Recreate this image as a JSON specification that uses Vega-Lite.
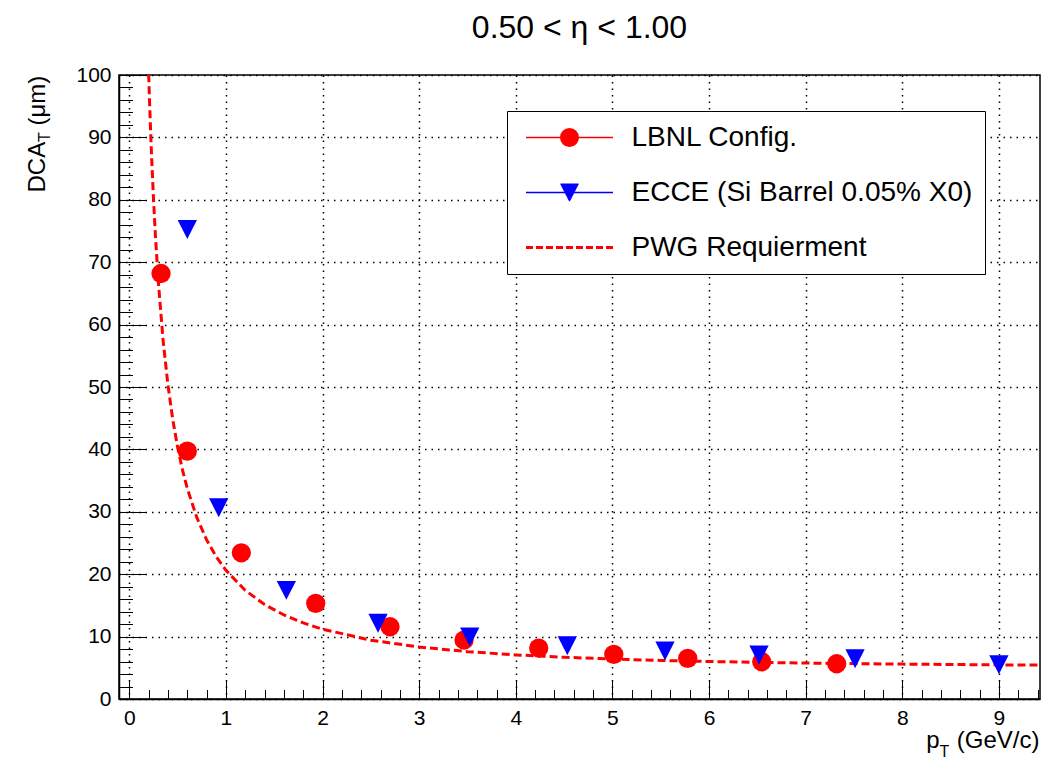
{
  "$schema": "https://vega.github.io/schema/vega-lite/v6.json",
  "width": 921,
  "height": 624,
  "autosize": {"type": "none"},
  "padding": {"left": 119, "top": 75, "right": 13, "bottom": 61},
  "background": "white",
  "title": {
    "text": "0.50 < η < 1.00",
    "font": "Liberation Sans",
    "fontSize": 32,
    "fontWeight": "normal",
    "color": "black",
    "anchor": "middle",
    "frame": "group",
    "baseline": "alphabetic",
    "offset": -6
  },
  "config": {
    "view": {"stroke": "black", "strokeWidth": 1.5},
    "axis": {
      "labelFont": "Liberation Sans",
      "titleFont": "Liberation Sans",
      "titleFontWeight": "normal",
      "titleColor": "black",
      "labelColor": "black",
      "tickColor": "black",
      "domainColor": "black"
    },
    "legend": {"labelFont": "Liberation Sans"}
  },
  "datasets": {
    "legend": [
      {"series": "LBNL Config."},
      {"series": "ECCE (Si Barrel 0.05% X0)"},
      {"series": "PWG Requierment"}
    ],
    "curve": [
      {"pt": 0.2, "dca": 100.12},
      {"pt": 0.21, "dca": 95.37},
      {"pt": 0.22, "dca": 91.05},
      {"pt": 0.23, "dca": 87.1},
      {"pt": 0.25, "dca": 80.16},
      {"pt": 0.27, "dca": 74.24},
      {"pt": 0.3, "dca": 66.85},
      {"pt": 0.35, "dca": 57.36},
      {"pt": 0.4, "dca": 50.25},
      {"pt": 0.45, "dca": 44.72},
      {"pt": 0.5, "dca": 40.31},
      {"pt": 0.55, "dca": 36.71},
      {"pt": 0.6, "dca": 33.71},
      {"pt": 0.7, "dca": 29.01},
      {"pt": 0.8, "dca": 25.5},
      {"pt": 0.9, "dca": 22.78},
      {"pt": 1.0, "dca": 20.62},
      {"pt": 1.2, "dca": 17.4},
      {"pt": 1.4, "dca": 15.14},
      {"pt": 1.6, "dca": 13.46},
      {"pt": 1.8, "dca": 12.19},
      {"pt": 2.0, "dca": 11.18},
      {"pt": 2.5, "dca": 9.43},
      {"pt": 3.0, "dca": 8.33},
      {"pt": 3.5, "dca": 7.59},
      {"pt": 4.0, "dca": 7.07},
      {"pt": 4.5, "dca": 6.69},
      {"pt": 5.0, "dca": 6.4},
      {"pt": 5.5, "dca": 6.18},
      {"pt": 6.0, "dca": 6.01},
      {"pt": 6.5, "dca": 5.87},
      {"pt": 7.0, "dca": 5.76},
      {"pt": 7.5, "dca": 5.67},
      {"pt": 8.0, "dca": 5.59},
      {"pt": 8.5, "dca": 5.53},
      {"pt": 9.0, "dca": 5.47},
      {"pt": 9.42, "dca": 5.43}
    ],
    "lbnl": [
      {"pt": 0.328, "dca": 68.19},
      {"pt": 0.6, "dca": 39.72},
      {"pt": 1.159, "dca": 23.43},
      {"pt": 1.929, "dca": 15.33},
      {"pt": 2.698, "dca": 11.58},
      {"pt": 3.464, "dca": 9.45},
      {"pt": 4.237, "dca": 8.17},
      {"pt": 5.014, "dca": 7.16},
      {"pt": 5.779, "dca": 6.52},
      {"pt": 6.545, "dca": 5.97},
      {"pt": 7.321, "dca": 5.65}
    ],
    "ecce": [
      {"pt": 0.6, "dca": 75.24},
      {"pt": 0.925, "dca": 30.64},
      {"pt": 1.625, "dca": 17.41},
      {"pt": 2.574, "dca": 12.13},
      {"pt": 3.523, "dca": 9.93},
      {"pt": 4.533, "dca": 8.54},
      {"pt": 5.544, "dca": 7.69},
      {"pt": 6.517, "dca": 7.05},
      {"pt": 7.511, "dca": 6.46},
      {"pt": 9.0, "dca": 5.49}
    ]
  },
  "resolve": {"axis": {"x": "independent", "y": "independent"}},
  "layer": [
    {
      "data": {"name": "curve"},
      "mark": {"type": "line", "stroke": "#ff0000", "strokeWidth": 3, "strokeDash": [8, 4], "clip": true},
      "encoding": {
        "x": {
          "field": "pt", "type": "quantitative",
          "scale": {"domain": [-0.107, 9.425], "nice": false, "zero": false},
          "axis": {
            "orient": "bottom",
            "values": [0,0.2,0.4,0.6,0.8,1,1.2,1.4,1.6,1.8,2,2.2,2.4,2.6,2.8,3,3.2,3.4,3.6,3.8,4,4.2,4.4,4.6,4.8,5,5.2,5.4,5.6,5.8,6,6.2,6.4,6.6,6.8,7,7.2,7.4,7.6,7.8,8,8.2,8.4,8.6,8.8,9,9.2,9.4],
            "labelExpr": "datum.value % 1 === 0 ? format(datum.value, 'd') : ''",
            "tickSize": {"condition": {"test": "datum.value % 1 === 0", "value": -19}, "value": -9.5},
            "tickWidth": 1,
            "grid": true,
            "gridColor": "black",
            "gridDash": [1.5, 5],
            "gridWidth": 1.5,
            "gridOpacity": {"condition": {"test": "datum.value % 1 === 0", "value": 1}, "value": 0},
            "labelFontSize": 21,
            "labelPadding": 27,
            "labelOverlap": false,
            "labelFlush": false,
            "domainWidth": 1.5,
            "title": "(GeV/c)",
            "titleFontSize": 24,
            "titleAlign": "right",
            "titleAngle": 0,
            "titleBaseline": "alphabetic",
            "titleX": 920,
            "titleY": 48
          }
        },
        "y": {
          "field": "dca", "type": "quantitative",
          "scale": {"domain": [0, 100], "nice": false, "zero": false},
          "axis": {
            "orient": "left",
            "values": [0,2,4,6,8,10,12,14,16,18,20,22,24,26,28,30,32,34,36,38,40,42,44,46,48,50,52,54,56,58,60,62,64,66,68,70,72,74,76,78,80,82,84,86,88,90,92,94,96,98,100],
            "labelExpr": "datum.value % 10 === 0 ? format(datum.value, 'd') : ''",
            "tickSize": {"condition": {"test": "datum.value % 10 === 0", "value": -27}, "value": -13.5},
            "tickWidth": 1,
            "grid": true,
            "gridColor": "black",
            "gridDash": [1.5, 5],
            "gridWidth": 1.5,
            "gridOpacity": {"condition": {"test": "datum.value % 10 === 0", "value": 1}, "value": 0},
            "labelFontSize": 21,
            "labelPadding": 35,
            "labelOverlap": false,
            "labelFlush": false,
            "domainWidth": 1.5,
            "title": "DCA",
            "titleFontSize": 24,
            "titleAngle": 270,
            "titleAlign": "left",
            "titleBaseline": "alphabetic",
            "titleX": -75,
            "titleY": 117
          }
        }
      }
    },
    {
      "data": {"name": "lbnl"},
      "mark": {"type": "point", "shape": "circle", "filled": true, "size": 372, "opacity": 1, "color": "#ff0000"},
      "encoding": {
        "x": {
          "field": "pt", "type": "quantitative",
          "scale": {"domain": [-0.107, 9.425], "nice": false, "zero": false},
          "axis": {"orient": "bottom", "ticks": false, "labels": false, "domain": false, "grid": false,
            "title": "p", "titleFontSize": 24, "titleAlign": "right", "titleAngle": 0, "titleBaseline": "alphabetic", "titleX": 820, "titleY": 48}
        },
        "y": {
          "field": "dca", "type": "quantitative",
          "scale": {"domain": [0, 100], "nice": false, "zero": false},
          "axis": {"orient": "left", "ticks": false, "labels": false, "domain": false, "grid": false,
            "title": "T", "titleFontSize": 16, "titleAngle": 270, "titleAlign": "left", "titleBaseline": "alphabetic", "titleX": -69.5, "titleY": 66.5}
        }
      }
    },
    {
      "data": {"name": "ecce"},
      "mark": {"type": "point", "shape": "M-1,-0.98L1,-0.98L0,0.98Z", "filled": true, "size": 372, "opacity": 1, "color": "#0000ff"},
      "encoding": {
        "x": {
          "field": "pt", "type": "quantitative",
          "scale": {"domain": [-0.107, 9.425], "nice": false, "zero": false},
          "axis": {"orient": "bottom", "ticks": false, "labels": false, "domain": false, "grid": false,
            "title": "T", "titleFontSize": 16, "titleAlign": "left", "titleAngle": 0, "titleBaseline": "alphabetic", "titleX": 820, "titleY": 57}
        },
        "y": {
          "field": "dca", "type": "quantitative",
          "scale": {"domain": [0, 100], "nice": false, "zero": false},
          "axis": {"orient": "left", "ticks": false, "labels": false, "domain": false, "grid": false,
            "title": "(μm)", "titleFontSize": 24, "titleAngle": 270, "titleAlign": "left", "titleBaseline": "alphabetic", "titleX": -75, "titleY": 50}
        }
      }
    },
    {
      "data": {"name": "legend"},
      "mark": {"type": "point", "filled": false, "size": 400, "opacity": 0, "strokeWidth": 1.5},
      "encoding": {
        "stroke": {
          "field": "series", "type": "nominal",
          "scale": {"domain": ["LBNL Config.", "ECCE (Si Barrel 0.05% X0)", "PWG Requierment"], "range": ["#ff0000", "#0000ff", "#ff0000"]},
          "legend": {
            "title": null,
            "orient": "none",
            "legendX": 388,
            "legendY": 36,
            "padding": 12.5,
            "strokeColor": "black",
            "fillColor": "white",
            "cornerRadius": 0,
            "symbolSize": 400,
            "symbolOpacity": 1,
            "symbolStrokeWidth": 1.5,
            "labelFontSize": 28,
            "labelColor": "black",
            "labelOffset": 84,
            "rowPadding": 27,
            "labelLimit": 700
          }
        },
        "shape": {
          "field": "series", "type": "nominal",
          "scale": {
            "domain": ["LBNL Config.", "ECCE (Si Barrel 0.05% X0)", "PWG Requierment"],
            "range": [
              "M-0.75,0H7.95M2.725,0A0.875,0.875,0,1,1,4.475,0A0.875,0.875,0,1,1,2.725,0M2.85,0A0.75,0.75,0,1,1,4.35,0A0.75,0.75,0,1,1,2.85,0M2.975,0A0.625,0.625,0,1,1,4.225,0A0.625,0.625,0,1,1,2.975,0M3.1,0A0.5,0.5,0,1,1,4.1,0A0.5,0.5,0,1,1,3.1,0M3.225,0A0.375,0.375,0,1,1,3.975,0A0.375,0.375,0,1,1,3.225,0M3.35,0A0.25,0.25,0,1,1,3.85,0A0.25,0.25,0,1,1,3.35,0M3.475,0A0.125,0.125,0,1,1,3.725,0A0.125,0.125,0,1,1,3.475,0M3.5,0H3.7",
              "M-0.75,0H7.95M2.689,-0.825H4.511M2.753,-0.7H4.447M2.817,-0.575H4.383M2.881,-0.45H4.319M2.945,-0.325H4.255M3.009,-0.2H4.191M3.074,-0.075H4.126M3.138,0.05H4.062M3.202,0.175H3.998M3.266,0.3H3.934M3.33,0.425H3.87M3.395,0.55H3.805M3.459,0.675H3.741M3.523,0.8H3.677",
              "M-0.75,-0.075H-0.05M-0.75,0.075H-0.05M0.25,-0.075H0.95M0.25,0.075H0.95M1.25,-0.075H1.95M1.25,0.075H1.95M2.25,-0.075H2.95M2.25,0.075H2.95M3.25,-0.075H3.95M3.25,0.075H3.95M4.25,-0.075H4.95M4.25,0.075H4.95M5.25,-0.075H5.95M5.25,0.075H5.95M6.25,-0.075H6.95M6.25,0.075H6.95M7.25,-0.075H7.95M7.25,0.075H7.95"
            ]
          },
          "legend": {"title": null}
        }
      }
    }
  ]
}
